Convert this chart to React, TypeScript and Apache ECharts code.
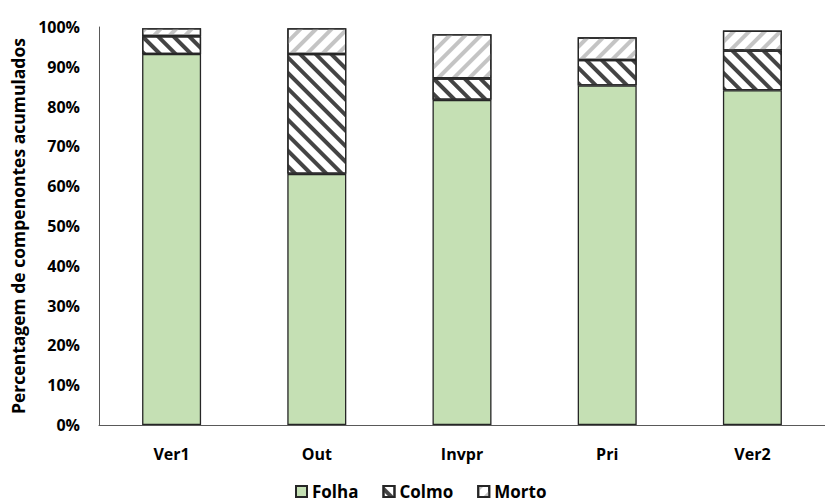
import React, { useEffect, useRef } from "react";
import * as echarts from "echarts";

const categories = ["Ver1", "Out", "Invpr", "Pri", "Ver2"];
const folha = [93.2, 63.1, 81.7, 85.3, 84.1];
const colmo = [4.5, 30.1, 5.4, 6.4, 10.0];
const morto = [2.0, 6.5, 11.1, 5.7, 5.0];
const yTicks = { min: 0, max: 100, interval: 10 };

const FONT = "'Open Sans', 'Liberation Sans', sans-serif";
const EDGE = "#262626";

export default function App() {
  const ref = useRef<HTMLDivElement>(null);

  useEffect(() => {
    document.body.style.margin = "0";
    const chart = echarts.init(ref.current!, null, { renderer: "svg" });

    // diagonal hatch fill
    const stripe = (color: string, rotation: number) => ({
      symbol: "rect",
      symbolSize: 1,
      color,
      backgroundColor: "#ffffff",
      dashArrayX: [1, 0],
      dashArrayY: [4, 7],
      rotation,
    });

    chart.setOption({
      animation: false,
      backgroundColor: "#ffffff",
      grid: { left: 99, top: 27, height: 398, width: 736 },
      legend: {
        bottom: 3,
        left: 290,
        icon: "rect",
        itemWidth: 11,
        itemHeight: 11,
        itemGap: 24,
        padding: [0, 5, 0, 5],
        textStyle: { fontFamily: FONT, fontWeight: "bold", fontSize: 17, color: "#000" },
        data: ["Folha", "Colmo", "Morto"],
      },
      xAxis: {
        type: "category",
        data: categories,
        axisLine: { lineStyle: { color: "#595959", width: 1 } },
        axisTick: { show: false },
        axisLabel: {
          margin: 21,
          fontFamily: FONT,
          fontWeight: "bold",
          fontSize: 16,
          color: "#000",
        },
      },
      yAxis: {
        type: "value",
        min: yTicks.min,
        max: yTicks.max,
        interval: yTicks.interval,
        name: "Percentagem de compenontes acumulados",
        nameLocation: "middle",
        nameGap: 72,
        nameTextStyle: { fontFamily: FONT, fontWeight: "bold", fontSize: 17.5, color: "#000" },
        axisLine: { show: true, lineStyle: { color: "#595959", width: 1 } },
        axisTick: { show: false },
        splitLine: { show: false },
        axisLabel: {
          margin: 19,
          formatter: "{value}%",
          fontFamily: FONT,
          fontWeight: "bold",
          fontSize: 16,
          color: "#000",
        },
      },
      series: [
        {
          name: "Folha",
          type: "bar",
          stack: "total",
          barWidth: 59,
          data: folha,
          itemStyle: { color: "#C5E0B4", borderColor: EDGE, borderWidth: 1.3 },
        },
        {
          name: "Colmo",
          type: "bar",
          stack: "total",
          barWidth: 59,
          data: colmo,
          itemStyle: {
            color: "#ffffff",
            borderColor: EDGE,
            borderWidth: 1.3,
            decal: stripe("#444444", Math.PI / 4),
          },
        },
        {
          name: "Morto",
          type: "bar",
          stack: "total",
          barWidth: 59,
          data: morto,
          itemStyle: {
            color: "#ffffff",
            borderColor: EDGE,
            borderWidth: 1.3,
            decal: stripe("#c4c4c4", -Math.PI / 4),
          },
        },
      ],
    });

    return () => chart.dispose();
  }, []);

  return <div ref={ref} style={{ width: 825, height: 503 }} />;
}
